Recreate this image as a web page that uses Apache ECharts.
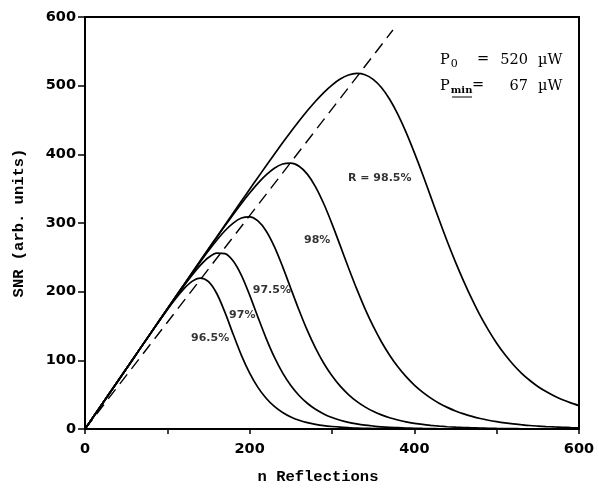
<!DOCTYPE html>
<html lang="en">
<head>
<meta charset="UTF-8">
<script src="https://cdn.jsdelivr.net/npm/echarts@6/dist/echarts.min.js"></script>
<title>SNR vs reflections</title>
<style>
  html, body { margin: 0; padding: 0; background: #fff; }
  #chart { width: 599px; height: 490px; }
</style>
</head>
<body>
<div id="chart"></div>
<script>
// number of reflections (0..600, step 10), shared by every curve
var nVals = [];
for (var k = 0; k <= 600; k += 10) nVals.push(k);

// SNR for each mirror reflectivity (one value per nVals entry)
var snr965 = [0, 17.5, 35, 52.5, 70, 87.5, 105, 122.4, 139.8, 157.0,
              173.8, 189.8, 204.1, 215.0, 219.7, 214.5, 197.3, 169.8, 137.9, 107.3,
              81.3, 60.6, 44.8, 32.9, 24.1, 17.6, 12.8, 9.3, 6.8, 4.9,
              3.6, 2.6, 1.9, 1.3, 1.0, 0.7, 0.5, 0.4, 0.3, 0.2,
              0.1, 0, 0, 0, 0, 0, 0, 0, 0, 0,
              0, 0, 0, 0, 0, 0, 0, 0, 0, 0, 0];
var snr970 = [0, 17.5, 35, 52.5, 70, 87.5, 105, 122.5, 139.9, 157.3,
              174.6, 191.6, 208.2, 224.0, 238.3, 249.7, 256.2, 255.4, 244.7, 223.8,
              195.0, 163.0, 132.0, 104.6, 81.8, 63.4, 48.8, 37.5, 28.7, 22.0,
              16.7, 12.8, 9.7, 7.4, 5.6, 4.3, 3.2, 2.4, 1.9, 1.4,
              1.1, 0.8, 0.6, 0.4, 0.3, 0.3, 0.2, 0.1, 0.1, 0.1,
              0.1, 0, 0, 0, 0, 0, 0, 0, 0, 0, 0];
var snr975 = [0, 17.5, 35, 52.5, 70, 87.5, 105, 122.5, 140, 157.4,
              174.8, 192.2, 209.5, 226.6, 243.3, 259.6, 274.9, 288.7, 299.9, 307.2,
              308.9, 303.0, 288.4, 265.6, 236.5, 204.6, 172.9, 143.5, 117.8, 95.8,
              77.5, 62.4, 50.2, 40.2, 32.2, 25.7, 20.6, 16.4, 13.1, 10.4,
              8.3, 6.6, 5.3, 4.2, 3.3, 2.6, 2.1, 1.7, 1.3, 1.0,
              0.8, 0.7, 0.5, 0.4, 0.3, 0.3, 0.2, 0.2, 0.1, 0.1, 0.1];
var snr980 = [0, 17.5, 35, 52.5, 70, 87.5, 105, 122.5, 140, 157.5,
              174.9, 192.4, 209.8, 227.3, 244.6, 261.9, 279.0, 295.9, 312.4, 328.5,
              343.7, 357.8, 370.0, 379.8, 385.9, 387.2, 382.6, 371.2, 352.7, 328.0,
              298.8, 267.0, 234.9, 204.0, 175.4, 149.7, 127.1, 107.5, 90.6, 76.2,
              64.0, 53.7, 45.0, 37.6, 31.5, 26.3, 22.0, 18.4, 15.3, 12.8,
              10.7, 8.9, 7.4, 6.2, 5.1, 4.3, 3.6, 3.0, 2.5, 2.0, 1.7];
var snr985 = [0, 17.5, 35, 52.5, 70, 87.5, 105, 122.5, 140, 157.5,
              175, 192.5, 209.9, 227.4, 244.9, 262.4, 279.8, 297.2, 314.6, 331.9,
              349.2, 366.3, 383.3, 400.1, 416.7, 432.8, 448.4, 463.4, 477.3, 490.0,
              500.9, 509.6, 515.5, 517.8, 516.0, 509.2, 497.4, 480.3, 458.2, 432.0,
              402.5, 371.0, 338, 305, 273, 243, 215, 189, 165, 144,
              125, 108.5, 94, 81.5, 71, 62, 54.5, 48, 42.5, 38, 34];

// dashed locus of the maxima
var maxLocus = [[0, 0], [374, 581]];

// curve labels and where they sit (data coords)
var curveLabels = ['96.5%', '97%', '97.5%', '98%', 'R = 98.5%'];
var labelPos = [[152, 133], [191, 166], [227, 202], [282, 275], [358, 366]];

var chart = echarts.init(document.getElementById('chart'));

function pairs(arr) {
    return nVals.map(function (n, i) { return [n, arr[i]]; });
}

var curves = [snr965, snr970, snr975, snr980, snr985].map(function (arr) {
    return {
        type: 'line',
        data: pairs(arr),
        smooth: 0.3,
        showSymbol: false,
        lineStyle: { color: '#000', width: 1.7 },
        silent: true
    };
});

var tickFont = { fontFamily: 'DejaVu Sans', fontWeight: 'bold', fontSize: 14.5, color: '#000' };
var nameFont = { fontFamily: 'Liberation Mono', fontWeight: 'bold', fontSize: 15.5, color: '#000' };
var noteFont = '14.5px "DejaVu Serif"';

var option = {
    animation: false,
    backgroundColor: '#fff',
    grid: { left: 85, right: 20, top: 17, bottom: 58, show: true, borderColor: '#000', borderWidth: 2 },
    xAxis: {
        type: 'value', min: 0, max: 600, interval: 100,
        name: 'n Reflections', nameLocation: 'middle', nameGap: 40,
        nameTextStyle: Object.assign({ padding: [0, 28, 0, 0] }, nameFont),
        axisLine: { lineStyle: { color: '#000', width: 2 } },
        axisTick: { length: 5, lineStyle: { color: '#000', width: 1.5 } },
        axisLabel: Object.assign({
            margin: 13,
            formatter: function (v) { return v % 200 === 0 ? v : ''; }
        }, tickFont),
        splitLine: { show: false }
    },
    yAxis: {
        type: 'value', min: 0, max: 600, interval: 100,
        name: 'SNR (arb. units)', nameLocation: 'middle', nameGap: 58,
        nameTextStyle: nameFont,
        axisLine: { lineStyle: { color: '#000', width: 2 } },
        axisTick: { length: 7, lineStyle: { color: '#000', width: 1.5 } },
        axisLabel: Object.assign({ margin: 9 }, tickFont),
        splitLine: { show: false }
    },
    series: curves.concat([
        {
            type: 'line',
            data: maxLocus,
            showSymbol: false,
            lineStyle: { color: '#000', width: 1.4, type: [12, 7] },
            silent: true
        },
        {
            type: 'scatter',
            symbolSize: 0,
            data: labelPos.map(function (p, i) { return { value: p, name: curveLabels[i] }; }),
            label: {
                show: true, position: 'inside',
                formatter: function (p) { return p.name; },
                fontFamily: 'DejaVu Sans', fontWeight: 'bold', fontSize: 11, color: '#000'
            },
            silent: true
        }
    ]),
    graphic: [
        // P0 = 520 µW
        {
            type: 'text', left: 440, top: 53,
            style: {
                text: 'P{s|0}',
                rich: { s: { fontSize: 11, fontFamily: 'DejaVu Serif', padding: [7, 0, 0, 1] } },
                font: noteFont, fill: '#000'
            }
        },
        { type: 'text', left: 477, top: 52, style: { text: '=', font: noteFont, fill: '#000' } },
        { type: 'text', right: 71, top: 53, style: { text: '520', font: noteFont, fill: '#000' } },
        { type: 'text', left: 538, top: 53, style: { text: 'µW', font: noteFont, fill: '#000' } },
        // Pmin = 67 µW
        {
            type: 'text', left: 440, top: 79,
            style: {
                text: 'P{s|min}',
                rich: { s: { fontSize: 10, fontWeight: 'bold', fontFamily: 'DejaVu Serif', padding: [7, 0, 0, 1] } },
                font: noteFont, fill: '#000'
            }
        },
        { type: 'line', shape: { x1: 452, y1: 97, x2: 472, y2: 97 }, style: { stroke: '#000', lineWidth: 1 } },
        { type: 'text', left: 472, top: 78, style: { text: '=', font: noteFont, fill: '#000' } },
        { type: 'text', right: 71, top: 79, style: { text: '67', font: noteFont, fill: '#000' } },
        { type: 'text', left: 538, top: 79, style: { text: 'µW', font: noteFont, fill: '#000' } }
    ]
};

chart.setOption(option);
</script>
</body>
</html>
